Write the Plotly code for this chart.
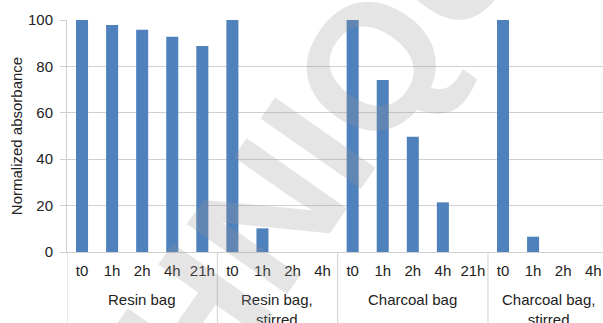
import plotly.graph_objects as go

# Sample groups and sampling times
groups = ["Resin bag", "Resin bag,<br>stirred", "Charcoal bag", "Charcoal bag,<br>stirred"]
times_resin = ["t0", "1h", "2h", "4h", "21h"]
times_resin_stirred = ["t0", "1h", "2h", "4h"]
times_charcoal = ["t0", "1h", "2h", "4h", "21h"]
times_charcoal_stirred = ["t0", "1h", "2h", "4h"]

# Normalized absorbance for each group
abs_resin = [100, 97.8, 95.8, 92.8, 88.8]
abs_resin_stirred = [100, 10.2, 0, 0]
abs_charcoal = [100, 74.1, 49.7, 21.4, 0]
abs_charcoal_stirred = [100, 6.6, 0, 0]

time_lists = [times_resin, times_resin_stirred, times_charcoal, times_charcoal_stirred]
value_lists = [abs_resin, abs_resin_stirred, abs_charcoal, abs_charcoal_stirred]

# Flatten into one sequence of category slots
time_labels, y_vals = [], []
group_bounds = [-0.5]
for ts, vs in zip(time_lists, value_lists):
    time_labels += ts
    y_vals += vs
    group_bounds.append(group_bounds[-1] + len(ts))
x_pos = list(range(len(time_labels)))

font_family = "Liberation Sans, Arial, sans-serif"
text_col = "#222222"
grid_col = "#D0D0D0"

W, H = 603, 323
M_L, M_R, M_T, M_B = 67, 0, 20, 71
plot_w = W - M_L - M_R
plot_h = H - M_T - M_B

fig = go.Figure(
    go.Bar(
        x=x_pos,
        y=y_vals,
        marker=dict(color="#4F81BD", line=dict(width=0)),
    )
)

fig.update_layout(
    width=W,
    height=H,
    margin=dict(l=M_L, r=M_R, t=M_T, b=M_B),
    paper_bgcolor="white",
    plot_bgcolor="white",
    bargap=0.6,
    showlegend=False,
    font=dict(family=font_family, size=15, color=text_col),
)

fig.update_xaxes(
    range=[-0.5, 17.325],
    automargin=False,
    tickmode="array",
    tickvals=x_pos,
    ticktext=time_labels,
    tickangle=0,
    ticks="",
    ticklabelstandoff=5,
    showgrid=False,
    zeroline=False,
    showline=True,
    linecolor=grid_col,
    linewidth=1,
    tickfont=dict(size=15, color=text_col),
)

fig.update_yaxes(
    range=[0, 100],
    automargin=False,
    tickvals=[0, 20, 40, 60, 80, 100],
    showgrid=True,
    gridcolor=grid_col,
    gridwidth=1,
    showline=True,
    linecolor=grid_col,
    ticks="outside",
    ticklen=6,
    tickcolor=grid_col,
    ticklabelstandoff=4,
    zeroline=False,
    title=dict(text="Normalized absorbance", font=dict(size=15), standoff=1),
    tickfont=dict(size=15, color=text_col),
)

# Group dividers below the category axis
for b in group_bounds[:-1]:
    fig.add_shape(
        type="line", xref="x", yref="paper",
        x0=b, x1=b, y0=0, y1=-M_B / plot_h,
        line=dict(color=grid_col, width=1),
    )

# Group labels centred under their categories
for g, lo, hi in zip(groups, group_bounds[:-1], group_bounds[1:]):
    fig.add_annotation(
        text=g, xref="x", yref="paper",
        x=(lo + hi) / 2, y=-(289 - (H - M_B)) / plot_h,
        xanchor="center", yanchor="top",
        showarrow=False, align="center",
        font=dict(size=15, color=text_col),
    )

# Diagonal watermark text over the plot
fig.add_annotation(
    text="<b>TECHNIQUE</b>",
    xref="paper", yref="paper",
    x=(252 - M_L) / plot_w, y=(H - 236 - M_B) / plot_h,
    xanchor="center", yanchor="middle",
    textangle=-55,
    showarrow=False,
    font=dict(family=font_family, size=178, color="rgba(150,150,150,0.25)"),
)

fig.write_html("out.html")
